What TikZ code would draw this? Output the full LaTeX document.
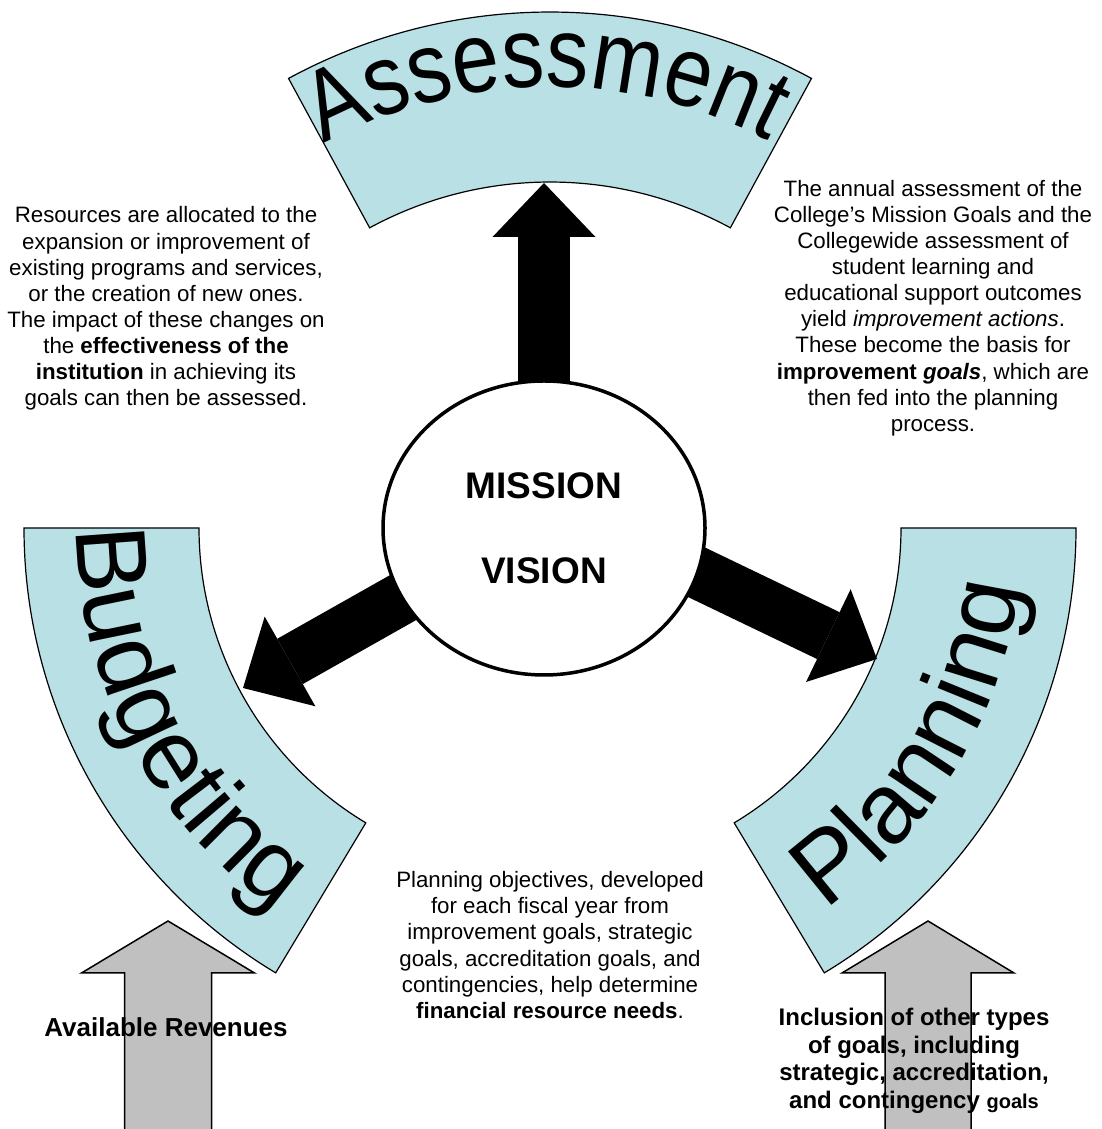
\documentclass[tikz,border=0pt]{standalone}
\usepackage{fontspec}
\setmainfont{Liberation Sans}
\newfontfamily\archfamily[FakeStretch=0.85]{Liberation Sans}
\usetikzlibrary{arrows.meta,shapes.geometric,decorations.text,backgrounds}
\definecolor{bandblue}{RGB}{185,224,228}
\definecolor{ingray}{RGB}{192,192,192}
\newcommand{\archfont}{\archfamily\fontsize{100}{100}\selectfont}
\newcommand{\sidefont}{\fontsize{100}{100}\selectfont}
\tikzset{%
  band/.style={draw=black,line width=1.2pt,fill=bandblue},
  flow/.style={draw=black,line width=52pt,-{Triangle[length=54pt,width=103pt,line width=0pt]}},
  inarrow/.style={draw=black,line width=1.5pt,fill=ingray},
  core/.style={draw,shape=ellipse,fill=white,line width=3.5pt,minimum width=322pt,minimum height=294pt,
    inner sep=0pt,align=center,font=\fontsize{37}{85}\selectfont\bfseries},
  note/.style={align=center,inner sep=0pt,font=\fontsize{22.3}{26.1}\selectfont},
  boldnote/.style={align=center,inner sep=0pt,font=\fontsize{24}{27.6}\selectfont\bfseries}
}

\begin{document}
\begin{tikzpicture}[x=1pt,y=1pt]
  \useasboundingbox (0,0) rectangle (1102,1129);
  \node[core] (core) at (544,601) {MISSION\\VISION};
  \coordinate (assess in) at (544,946);
  \coordinate (budget in) at (243,441);
  \coordinate (plan in) at (877,470);
  \begin{scope}[on background layer]
    % the three bands
    \draw[band] ([shift={(550,569)}]61.5:548pt) arc[start angle=61.5,end angle=118.5,radius=548pt]
      -- ([shift={(550,569)}]118.5:378pt) arc[start angle=118.5,end angle=61.5,radius=378pt] -- cycle;
    \draw[band] ([shift={(543,601)}]180:519pt) arc[start angle=180,end angle=239,radius=519pt]
      -- ([shift={(543,601)}]239:344pt) arc[start angle=239,end angle=180,radius=344pt] -- cycle;
    \draw[band] ([shift={(557,601)}]-59:519pt) arc[start angle=-59,end angle=0,radius=519pt]
      -- ([shift={(557,601)}]0:344pt) arc[start angle=0,end angle=-59,radius=344pt] -- cycle;
    \draw[flow] (core.center) -- (assess in);
    \draw[flow] ([yshift=10pt]core.center) -- (budget in);
    \draw[flow] ([yshift=29pt]core.center) -- (plan in);
  \end{scope}

  \path[decorate,decoration={text along path,text align=center,text={|\archfont|Assessment}}]
    ([shift={(550,569)}]125:473pt) arc[start angle=125,end angle=56,radius=473pt];
  \path[decorate,decoration={text along path,text align=left,text={|\sidefont|Budgeting}}]
    ([shift={(543,601)}]180:466pt) arc[start angle=180,end angle=245,radius=466pt];
  \path[decorate,decoration={text along path,text align=left,text={|\sidefont|Planning}}]
    ([shift={(557,601)}]-55:466pt) arc[start angle=-55,end angle=4,radius=466pt];

  % inputs from below
  \coordinate (rev tip) at (168,208);
  \coordinate (goals tip) at (928,208);
  \draw[inarrow] (rev tip) -- ++(86.5,-52) -- ++(-43,0) -- ++(0,-170) -- ++(-87,0) -- ++(0,170) -- ++(-43,0) -- cycle;
  \draw[inarrow] (goals tip) -- ++(86,-52) -- ++(-43,0) -- ++(0,-170) -- ++(-86,0) -- ++(0,170) -- ++(-43,0) -- cycle;

  \node[note] (resources) at (166,820.5) {Resources are allocated to the\\
    expansion or improvement of\\existing programs and services,\\or the creation of new ones.\\
    The impact of these changes on\\the \textbf{effectiveness of the}\\
    \textbf{institution} in achieving its\\goals can then be assessed.};
  \node[note] (annual) at (933,821) {The annual assessment of the\\
    College’s Mission Goals and the\\Collegewide assessment of\\student learning and\\
    educational support outcomes\\yield \textit{improvement actions}.\\
    These become the basis for\\\textbf{improvement \textit{goals}}, which are\\
    then fed into the planning\\process.};
  \node[note] (objectives) at (550,184) {Planning objectives, developed\\
    for each fiscal year from\\improvement goals, strategic\\goals, accreditation goals, and\\
    contingencies, help determine\\\textbf{financial resource needs}.};
  \node[font=\fontsize{26}{30}\selectfont\bfseries,inner sep=0pt] (revenues) at (166,102) {Available Revenues};
  \node[boldnote] (othergoals) at (914,68) {Inclusion of other types\\of goals, including\\
    strategic, accreditation,\\and contingency {\fontsize{20}{27.6}\selectfont goals}};
\end{tikzpicture}
\end{document}
